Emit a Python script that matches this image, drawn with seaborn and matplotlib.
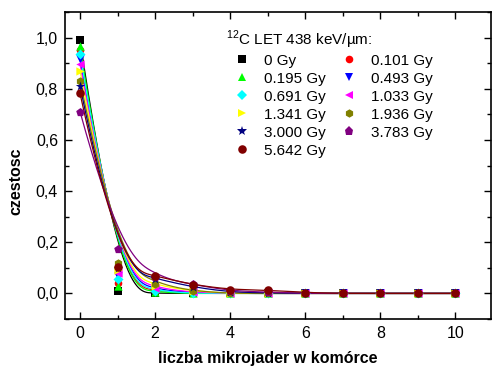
import numpy as np
import pandas as pd
import matplotlib
matplotlib.use("Agg")
import matplotlib.pyplot as plt
import seaborn as sns
from matplotlib.lines import Line2D
from matplotlib.ticker import MultipleLocator, FuncFormatter

sns.set_theme(style="ticks")
plt.rcParams['font.family'] = ['Liberation Sans', 'DejaVu Sans']
plt.rcParams['mathtext.fontset'] = 'custom'
plt.rcParams['mathtext.rm'] = 'Liberation Sans'
plt.rcParams['text.color'] = 'black'
plt.rcParams['axes.labelcolor'] = 'black'

# ---- data ----
counts = [0, 1, 2, 3, 4, 5, 6, 7, 8, 9, 10]
doses = ["0 Gy", "0.101 Gy", "0.195 Gy", "0.493 Gy", "0.691 Gy", "1.033 Gy",
         "1.341 Gy", "1.936 Gy", "3.000 Gy", "3.783 Gy", "5.642 Gy"]
freq_0000 = [0.990, 0.008, 0.000, 0.000, 0.000, 0.000, 0.000, 0, 0, 0, 0]
freq_0101 = [0.950, 0.040, 0.008, 0.002, 0.000, 0.000, 0.000, 0, 0, 0, 0]
freq_0195 = [0.966, 0.030, 0.004, 0.000, 0.000, 0.000, 0.000, 0, 0, 0, 0]
freq_0493 = [0.915, 0.068, 0.012, 0.005, 0.000, 0.000, 0.000, 0, 0, 0, 0]
freq_0691 = [0.936, 0.055, 0.008, 0.001, 0.000, 0.000, 0.000, 0, 0, 0, 0]
freq_1033 = [0.896, 0.078, 0.020, 0.005, 0.001, 0.000, 0.000, 0, 0, 0, 0]
freq_1341 = [0.870, 0.090, 0.030, 0.010, 0.000, 0.000, 0.000, 0, 0, 0, 0]
freq_1936 = [0.832, 0.120, 0.038, 0.010, 0.000, 0.000, 0.000, 0, 0, 0, 0]
freq_3000 = [0.810, 0.100, 0.058, 0.025, 0.005, 0.002, 0.000, 0, 0, 0, 0]
freq_3783 = [0.711, 0.175, 0.064, 0.035, 0.010, 0.005, 0.000, 0, 0, 0, 0]
freq_5642 = [0.782, 0.104, 0.068, 0.034, 0.015, 0.013, 0.003, 0, 0, 0, 0]
series = [freq_0000, freq_0101, freq_0195, freq_0493, freq_0691, freq_1033,
          freq_1341, freq_1936, freq_3000, freq_3783, freq_5642]
legend_title = r"$^{12}$C LET 438 keV/µm:"

colors = ["#000000", "#FF0000", "#00FF00", "#0000FF", "#00FFFF", "#FF00FF",
          "#FFFF00", "#808000", "#000080", "#800080", "#800000"]
markers = ["s", "o", "^", "v", "D", "<", ">", "h", "*", "p", "o"]
msizes = [28, 30, 36, 36, 26, 36, 36, 36, 50, 42, 38]


def bspline_curve(px, py, npts=600, k=3):
    """Clamped uniform cubic B-spline through control polygon (Origin 'B-Spline' connect)."""
    px = np.asarray(px, float)
    py = np.asarray(py, float)
    m = len(px)
    inner = list(range(1, m - k))
    knots = np.array([0] * (k + 1) + inner + [m - k] * (k + 1), float)
    u = np.linspace(0, m - k, npts)
    nb = len(knots) - 1
    N = np.zeros((npts, nb))
    for i in range(nb):
        N[:, i] = (knots[i] <= u) & (u < knots[i + 1])
    last = np.where(knots[:-1] < knots[1:])[0][-1]
    N[u == knots[-1], last] = 1.0
    for d in range(1, k + 1):
        Nn = np.zeros((npts, nb - d))
        for i in range(nb - d):
            a = knots[i + d] - knots[i]
            b = knots[i + d + 1] - knots[i + 1]
            t1 = (u - knots[i]) / a * N[:, i] if a > 0 else 0
            t2 = (knots[i + d + 1] - u) / b * N[:, i + 1] if b > 0 else 0
            Nn[:, i] = t1 + t2
        N = Nn
    return N @ px, N @ py


fig = plt.figure(figsize=(4.92, 3.66), dpi=100)
ax = fig.add_axes([65 / 492, 47 / 366, 426 / 492, 307 / 366])

for vals, col, mk, ms in zip(series, colors, markers, msizes):
    cx, cy = bspline_curve(counts, vals)
    sns.lineplot(x=cx, y=cy, ax=ax, color=col, lw=0.9, sort=False,
                 estimator=None, legend=False)
    sns.scatterplot(x=counts, y=vals, ax=ax, color=col, marker=mk, s=ms,
                    linewidth=0, legend=False, zorder=3)

ax.set_xlim(-0.4, 10.95)
ax.set_ylim(-0.1, 1.1)
ax.xaxis.set_major_locator(MultipleLocator(2))
ax.xaxis.set_minor_locator(MultipleLocator(1))
ax.yaxis.set_major_locator(MultipleLocator(0.2))
ax.yaxis.set_minor_locator(MultipleLocator(0.1))
ax.yaxis.set_major_formatter(FuncFormatter(lambda v, p: f"{v:.1f}".replace(".", ",").replace("-0,0", "0,0")))
ax.tick_params(which="both", direction="in", top=True, right=True,
               labelsize=11.5, colors="black", labelcolor="black", width=1.0, pad=5)
ax.tick_params(which="major", length=5)
ax.tick_params(which="minor", length=3)
for sp in ax.spines.values():
    sp.set_linewidth(1.2)
    sp.set_color("black")

ax.set_xlabel("liczba mikrojader w komórce", fontsize=11.5, fontweight="bold", color="black")
ax.set_ylabel("czestosc", fontsize=11.5, fontweight="bold", color="black")
ax.xaxis.set_label_coords(0.475, -0.105)
ax.yaxis.set_label_coords(-0.098, 0.45)

handles = [Line2D([], [], ls="none", marker=mk, color=col, markersize=np.sqrt(ms),
                  markeredgewidth=0) for col, mk, ms in zip(colors, markers, msizes)]
order = [0, 2, 4, 6, 8, 10, 1, 3, 5, 7, 9]
leg = ax.legend([handles[i] for i in order], [doses[i] for i in order], ncol=2,
                frameon=False, fontsize=11, loc="upper left",
                bbox_to_anchor=(215 / 492, 1 - 43 / 366), bbox_transform=fig.transFigure,
                handlelength=2.1, handletextpad=0.4, columnspacing=0.45,
                labelspacing=0.26, borderpad=0.2)
for t in leg.get_texts():
    t.set_color("black")
fig.text(226 / 492, 1 - 45 / 366, legend_title, fontsize=11, color="black",
         ha="left", va="baseline")

fig.savefig("out.png", dpi=100)
